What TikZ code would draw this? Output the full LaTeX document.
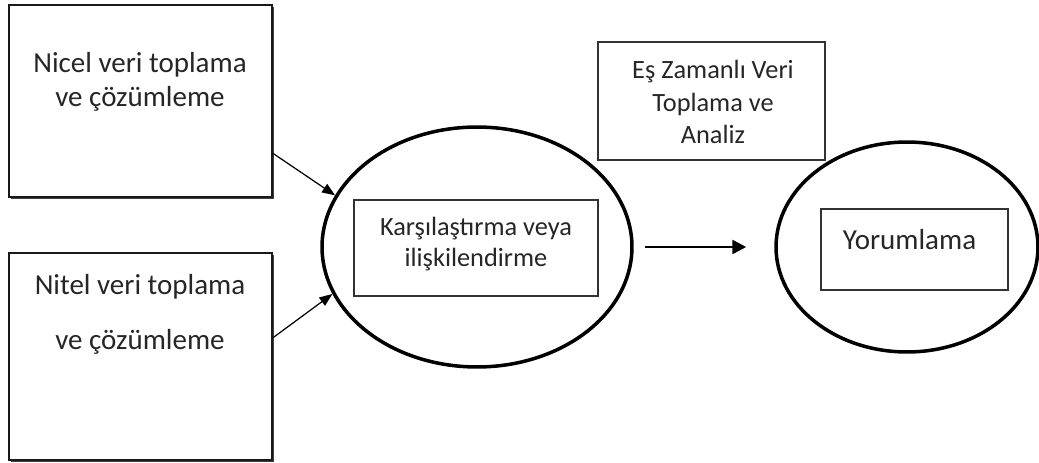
\documentclass[tikz,border=0pt]{standalone}
\usepackage{fontspec}
\setmainfont{Carlito}
\usetikzlibrary{arrows.meta,positioning,calc,shapes.geometric,shadows}

\begin{document}
\begin{tikzpicture}[x=0.02cm, y=-0.02cm,
    every node/.style={text=black!85},
    bigbox/.style={draw=black!90, line width=1.2pt, inner sep=0pt, fill=white,
        drop shadow={shadow xshift=0.035cm, shadow yshift=-0.035cm, fill=black!75, opacity=1}},
    innerbox/.style={draw=black!80, line width=0.85pt, inner sep=0pt, fill=white,
        drop shadow={shadow xshift=0.015cm, shadow yshift=-0.025cm, fill=black!45, opacity=1}},
    oval/.style={ellipse, draw, line width=2pt, inner sep=0pt},
    bigtext/.style={align=center, font=\fontsize{16.5}{19.3}\selectfont},
    midtext/.style={align=center, font=\fontsize{15}{17.6}\selectfont},
    thinarrow/.style={line width=0.7pt, -{Triangle[length=0.26cm, width=0.2cm]}},
    thickarrow/.style={line width=1.4pt, -{Triangle[length=0.28cm, width=0.28cm]}}]
    \useasboundingbox (0,0) rectangle (1039,463);

    % Quantitative box
    \node[bigbox, minimum width=5.26cm, minimum height=3.84cm] (nicel) at (140.5,101) {};
    \node[bigtext] (niceltext) at (140,82) {Nicel veri toplama\\ve çözümleme};

    % Qualitative box
    \node[bigbox, minimum width=5.26cm, minimum height=4.14cm] (nitel) at (140.5,356.5) {};
    \node[bigtext, font=\fontsize{16.5}{31.2}\selectfont] (niteltext) at (140,314) {Nitel veri toplama\\ve çözümleme};

    % Comparison ellipse
    \node[oval, minimum width=6.2cm, minimum height=4.8cm] (comp) at (477,247) {};
    \node[innerbox, minimum width=4.88cm, minimum height=1.92cm] (compbox) at (476,248) {};
    \node[midtext] (comptext) at (476,244) {Karşılaştırma veya\\ilişkilendirme};

    % Concurrent label
    \node[innerbox, minimum width=4.54cm, minimum height=2.36cm] (eszaman) at (711.5,101) {};
    \node[midtext, font=\fontsize{15}{18.4}\selectfont] (eszamantext) at (713,102) {Eş Zamanlı Veri\\Toplama ve\\Analiz};

    % Interpretation ellipse
    \node[oval, minimum width=5.24cm, minimum height=4.2cm] (interp) at (907,247) {};
    \node[innerbox, minimum width=3.74cm, minimum height=1.62cm] (interpbox) at (914.5,249.5) {};
    \node[bigtext] (interptext) at (909.5,240) {Yorumlama};

    % Arrows
    \draw[thinarrow] ($(nicel.north east)!0.77!(nicel.south east)$) -- (comp.160);
    \draw[thinarrow] ($(nitel.north east)!0.41!(nitel.south east)$) -- (comp.198);
    \draw[thickarrow] ([xshift=0.22cm]comp.east) -- ([xshift=-0.56cm]interp.west);
\end{tikzpicture}
\end{document}
